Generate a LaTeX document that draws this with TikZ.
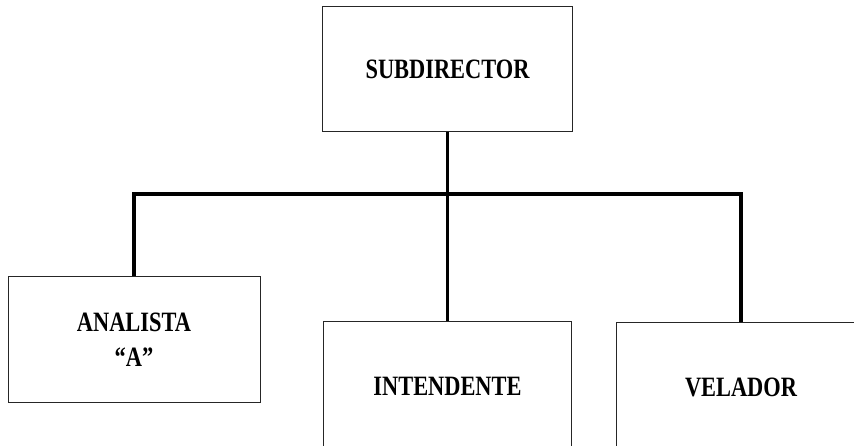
\documentclass[tikz,border=0pt]{standalone}
\usepackage{fontspec}
\newfontfamily\lblfont[FakeStretch=0.8]{Liberation Serif}
\begin{document}
\begin{tikzpicture}[x=1pt,y=1pt,
  box/.style={draw=black!85,line width=1pt,rectangle,inner sep=0pt,align=center,
    font=\lblfont\bfseries\fontsize{28}{35}\selectfont},
  conn/.style={line width=3.2pt,line join=miter}]
\fill[white] (0,0) rectangle (854,446);
\useasboundingbox (0,0) rectangle (854,446);
\node[box,minimum width=250pt,minimum height=125pt] (sub) at (447.5,376.5) {SUBDIRECTOR};
\node[box,minimum width=252pt,minimum height=126pt] (ana) at (134,106) {ANALISTA\\“A”};
\node[box,minimum width=248pt,minimum height=128pt] (int) at (447.5,60) {INTENDENTE};
\node[box,minimum width=250pt,minimum height=128pt] (vel) at (741,59) {VELADOR};
\coordinate (j) at (447.5,252);
\draw[conn] (sub.south) -- (int.north);
\draw[conn] (ana.north) -- (ana.north |- j) -- (vel.north |- j) -- (vel.north);
\end{tikzpicture}
\end{document}
